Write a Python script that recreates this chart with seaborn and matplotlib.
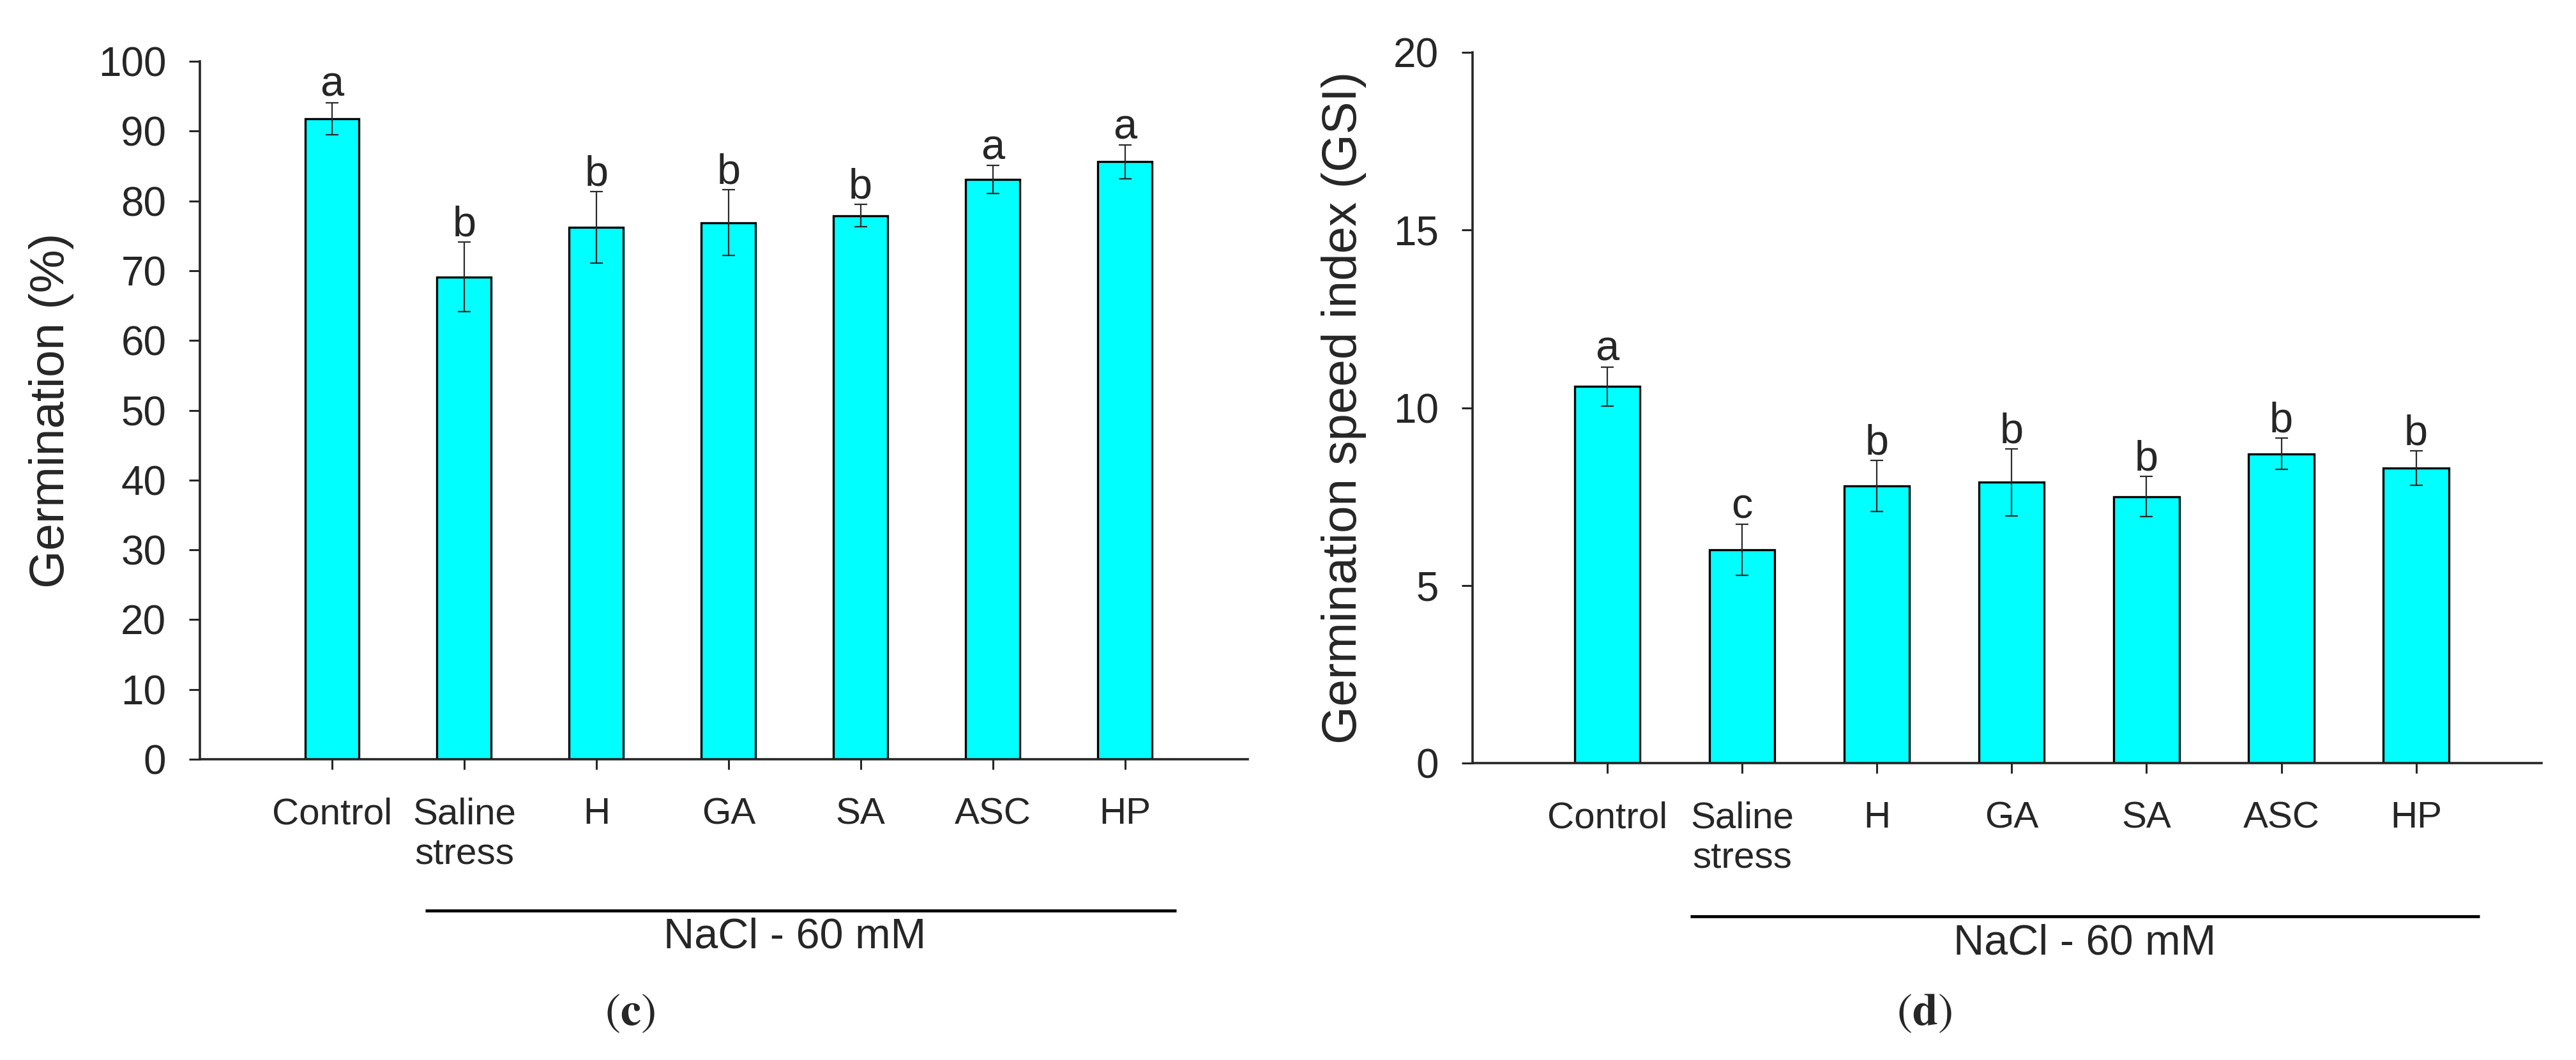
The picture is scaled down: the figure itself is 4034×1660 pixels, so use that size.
import numpy as np
import matplotlib
matplotlib.use('Agg')
import matplotlib.pyplot as plt
import seaborn as sns

# data
treatments = ['Control', 'Saline\nstress', 'H', 'GA', 'SA', 'ASC', 'HP']
germ_mean = [91.8, 69.1, 76.2, 76.9, 77.9, 83.1, 85.6]
germ_err = [2.3, 5.0, 5.1, 4.7, 1.6, 2.0, 2.4]
germ_letters = ['a', 'b', 'b', 'b', 'b', 'a', 'a']
gsi_mean = [10.6, 6.0, 7.8, 7.9, 7.5, 8.7, 8.3]
gsi_err = [0.55, 0.72, 0.72, 0.94, 0.57, 0.44, 0.48]
gsi_letters = ['a', 'c', 'b', 'b', 'b', 'b', 'b']

sns.set_style('ticks')
plt.rcParams['font.family'] = ['Liberation Sans', 'DejaVu Sans']
plt.rcParams['mathtext.fontset'] = 'stix'

BAR = '#00FFFF'
fig = plt.figure(figsize=(40.34, 16.6), dpi=100)
ax1 = fig.add_axes([0.0776, 0.2837, 0.4068, 0.6584])
ax2 = fig.add_axes([0.5716, 0.2801, 0.4150, 0.6705])


def panel(ax, means, errs, letters, width, ylim, yticks, ylabel, label_x,
          line_x, line_y, txt_x, txt_y):
    sns.barplot(x=treatments, y=means, ax=ax, color=BAR, saturation=1,
                edgecolor='black', linewidth=2.4, width=width, errorbar=None,
                zorder=2)
    x = np.arange(len(treatments))
    ax.errorbar(x, means, yerr=errs, fmt='none', ecolor='#2a2a2a',
                elinewidth=1.6, capsize=7, capthick=1.6, zorder=5)
    for i, (m, e, l) in enumerate(zip(means, errs, letters)):
        ax.annotate(l, (i, m + e), xytext=(0, 7), textcoords='offset points',
                    ha='center', va='baseline', fontsize=48)
    ax.set_xlim(-1, 6.93)
    ax.set_ylim(*ylim)
    ax.set_yticks(yticks)
    sns.despine(ax=ax)
    for s in ['left', 'bottom']:
        ax.spines[s].set_linewidth(2.6)
    ax.tick_params(axis='y', length=12, width=2.2, labelsize=46, pad=26)
    ax.tick_params(axis='x', length=11.5, width=2.2, labelsize=42, pad=31)
    ax.set_ylabel(ylabel, fontsize=55)
    ax.yaxis.set_label_coords(label_x, 0.5)
    ax.set_xlabel('')
    tr = ax.get_xaxis_transform()
    ax.plot(line_x, [line_y, line_y], transform=tr, clip_on=False,
            color='black', lw=3.4, solid_capstyle='butt')
    ax.text(txt_x, txt_y, 'NaCl - 60 mM', transform=tr, ha='center',
            va='center', fontsize=48)


panel(ax1, germ_mean, germ_err, germ_letters, 0.41, (0, 100),
      np.arange(0, 101, 10), 'Germination (%)', -0.12,
      [0.705, 6.39], -0.217, 3.5, -0.255)
panel(ax2, gsi_mean, gsi_err, gsi_letters, 0.485, (0, 20),
      np.arange(0, 21, 5), 'Germination speed index (GSI)', -0.099,
      [0.616, 6.47], -0.2156, 3.54, -0.254)

fig.text(0.2444, 0.044, r'$(\mathbf{c})$', ha='center', va='center',
         fontsize=52)
fig.text(0.7469, 0.044, r'$(\mathbf{d})$', ha='center', va='center',
         fontsize=52)

fig.savefig('out.png', dpi=100, facecolor='white')
